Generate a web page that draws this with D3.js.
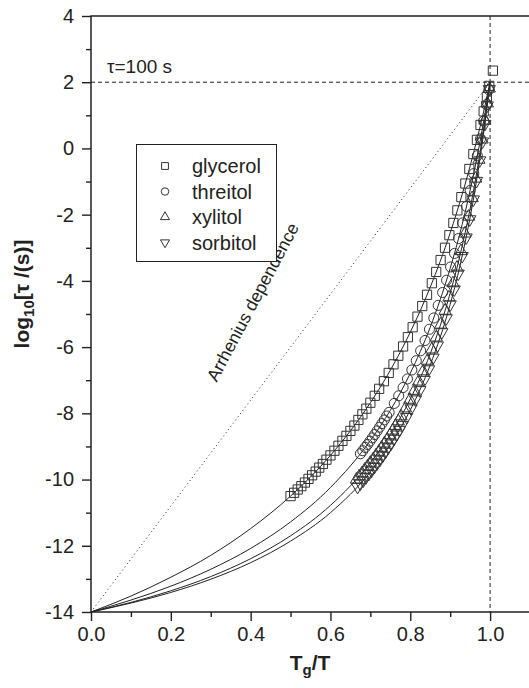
<!DOCTYPE html>
<html>
<head>
<meta charset="utf-8">
<script src="https://cdn.jsdelivr.net/npm/d3@7"></script>
<style>
  html, body { margin: 0; padding: 0; background: #fff; }
  svg { display: block; font-family: "Liberation Sans", Arial, sans-serif; }
</style>
</head>
<body>
<svg class="chart" width="529" height="688"></svg>
<script>
// measured points [Tg/T, log10 tau]
const glycerol = [
  [0.500, -10.50], [0.509, -10.40], [0.518, -10.30], [0.527, -10.20], [0.536, -10.09],
  [0.545, -9.98], [0.554, -9.87], [0.563, -9.76], [0.572, -9.64], [0.581, -9.53],
  [0.590, -9.40], [0.600, -9.27], [0.610, -9.13], [0.620, -8.98], [0.630, -8.83],
  [0.640, -8.68], [0.650, -8.53], [0.660, -8.37], [0.670, -8.20], [0.680, -8.03],
  [0.690, -7.86], [0.700, -7.68], [0.711, -7.47], [0.722, -7.26], [0.734, -7.03],
  [0.746, -6.78], [0.758, -6.52], [0.770, -6.26], [0.782, -5.98], [0.794, -5.70],
  [0.806, -5.40], [0.818, -5.08], [0.830, -4.76], [0.842, -4.42], [0.854, -4.07],
  [0.865, -3.73], [0.876, -3.37], [0.887, -3.00], [0.898, -2.62], [0.908, -2.25],
  [0.918, -1.87], [0.928, -1.47], [0.938, -1.06], [0.948, -0.62], [0.958, -0.17],
  [0.967, 0.26], [0.976, 0.71], [0.984, 1.12], [0.992, 1.55], [0.998, 1.89],
  [1.007, 2.35]
];
const threitol = [
  [0.675, -9.22], [0.681, -9.13], [0.687, -9.03], [0.693, -8.94], [0.699, -8.84],
  [0.705, -8.74], [0.711, -8.64], [0.717, -8.53], [0.723, -8.42], [0.729, -8.31],
  [0.735, -8.20], [0.741, -8.08], [0.747, -7.97], [0.760, -7.70], [0.771, -7.47],
  [0.782, -7.22], [0.793, -6.96], [0.804, -6.69], [0.815, -6.41], [0.826, -6.11],
  [0.837, -5.80], [0.848, -5.46], [0.859, -5.12], [0.870, -4.74], [0.881, -4.35],
  [0.891, -3.98], [0.901, -3.58], [0.911, -3.17], [0.921, -2.72], [0.931, -2.25],
  [0.941, -1.75], [0.950, -1.27], [0.959, -0.76], [0.968, -0.22], [0.976, 0.29],
  [0.984, 0.83], [0.991, 1.32], [0.997, 1.77]
];
const xylitol = [
  [0.665, -10.00], [0.672, -9.90], [0.679, -9.81], [0.686, -9.70], [0.693, -9.60],
  [0.700, -9.49], [0.707, -9.39], [0.714, -9.27], [0.721, -9.16], [0.728, -9.04],
  [0.735, -8.91], [0.742, -8.79], [0.749, -8.66], [0.756, -8.52], [0.763, -8.38],
  [0.770, -8.24], [0.777, -8.09], [0.788, -7.85], [0.799, -7.59], [0.810, -7.32],
  [0.821, -7.04], [0.832, -6.73], [0.843, -6.41], [0.854, -6.07], [0.865, -5.71],
  [0.876, -5.32], [0.887, -4.90], [0.897, -4.50], [0.907, -4.07], [0.917, -3.60],
  [0.927, -3.10], [0.937, -2.57], [0.946, -2.06], [0.955, -1.50], [0.964, -0.91],
  [0.972, -0.34], [0.980, 0.27], [0.987, 0.84], [0.993, 1.36], [0.998, 1.81]
];
const sorbitol = [
  [0.668, -10.22], [0.675, -10.12], [0.682, -10.03], [0.689, -9.93], [0.696, -9.83],
  [0.703, -9.73], [0.710, -9.62], [0.717, -9.51], [0.724, -9.40], [0.731, -9.28],
  [0.738, -9.16], [0.745, -9.03], [0.752, -8.91], [0.759, -8.77], [0.766, -8.64],
  [0.773, -8.50], [0.780, -8.35], [0.791, -8.11], [0.802, -7.85], [0.813, -7.58],
  [0.824, -7.30], [0.835, -6.99], [0.846, -6.67], [0.857, -6.32], [0.868, -5.95],
  [0.879, -5.55], [0.890, -5.13], [0.900, -4.71], [0.910, -4.26], [0.920, -3.78],
  [0.930, -3.25], [0.940, -2.69], [0.949, -2.14], [0.958, -1.54], [0.966, -0.98],
  [0.974, -0.36], [0.981, 0.21], [0.987, 0.74], [0.993, 1.30], [0.998, 1.79]
];

const fitX = [0, 0.1, 0.2, 0.3, 0.4, 0.5, 0.6, 0.7, 0.75, 0.8, 0.85, 0.9, 0.93, 0.96, 0.98, 1.0];
const fitGlycerol = [-14, -13.52, -12.95, -12.29, -11.48, -10.50, -9.27, -7.68, -6.70, -5.55, -4.19, -2.55, -1.39, -0.07, 0.91, 2];
const fitThreitol = [-14, -13.64, -13.22, -12.71, -12.08, -11.28, -10.24, -8.82, -7.91, -6.79, -5.40, -3.62, -2.30, -0.70, 0.55, 2];
const fitXylitol = [-14, -13.71, -13.36, -12.93, -12.39, -11.70, -10.78, -9.49, -8.64, -7.57, -6.20, -4.37, -2.95, -1.18, 0.27, 2];
const fitSorbitol = [-14, -13.73, -13.41, -13.01, -12.51, -11.86, -11.00, -9.77, -8.94, -7.90, -6.54, -4.71, -3.25, -1.41, 0.13, 2];

const arrhenius = [[0, -14], [1, 2]];
const xTicks = [0, 0.2, 0.4, 0.6, 0.8, 1.0];
const xMinor = [0.1, 0.3, 0.5, 0.7, 0.9];
const yTicks = [-14, -12, -10, -8, -6, -4, -2, 0, 2, 4];
const yMinor = [-13, -11, -9, -7, -5, -3, -1, 1, 3];
const legendNames = ["glycerol", "threitol", "xylitol", "sorbitol"];

const svg = d3.select(".chart");
const mLeft = 91, mRight = 530, mTop = 16, mBottom = 612;

const x = d3.scaleLinear().domain([0, 1.1]).range([mLeft, mRight]);
const y = d3.scaleLinear().domain([-14, 4]).range([mBottom, mTop]);

const ink = "#222";

// axes
svg.append("g").attr("transform", `translate(0,${mBottom})`)
  .call(d3.axisBottom(x).tickValues(xTicks).tickSize(9).tickPadding(6).tickFormat(d3.format(".1f")));
svg.append("g").attr("transform", `translate(0,${mBottom})`)
  .call(d3.axisBottom(x).tickValues(xMinor).tickSize(5).tickFormat(""));
const yAxis = svg.append("g").attr("transform", `translate(${mLeft},0)`)
  .call(d3.axisLeft(y).tickValues(yTicks).tickSize(9).tickPadding(8).tickFormat(d3.format("d")));
svg.append("g").attr("transform", `translate(${mLeft},0)`)
  .call(d3.axisLeft(y).tickValues(yMinor).tickSize(5).tickFormat(""));

svg.selectAll(".domain").remove();
svg.selectAll(".tick line").attr("stroke", ink).attr("stroke-width", 1.4);
svg.selectAll(".tick text")
  .attr("fill", ink)
  .style("font-size", "20px")
  .style("font-family", "'Liberation Sans', Arial, sans-serif");
yAxis.selectAll(".tick text").text(d => d < 0 ? "-" + Math.abs(d) : d);

// frame
svg.append("path")
  .attr("d", `M${mLeft},${mTop}H${mRight}V${mBottom}H${mLeft}Z`)
  .attr("fill", "none").attr("stroke", ink).attr("stroke-width", 1.5);

// reference lines
svg.append("line")
  .attr("x1", mLeft).attr("x2", mRight).attr("y1", y(2)).attr("y2", y(2))
  .attr("stroke", ink).attr("stroke-width", 1).attr("stroke-dasharray", "4,3");
svg.append("line")
  .attr("x1", x(1)).attr("x2", x(1)).attr("y1", mTop).attr("y2", mBottom)
  .attr("stroke", ink).attr("stroke-width", 1).attr("stroke-dasharray", "4,3");
svg.append("path")
  .datum(arrhenius)
  .attr("d", d3.line().x(d => x(d[0])).y(d => y(d[1])))
  .attr("fill", "none").attr("stroke", ink).attr("stroke-width", 1).attr("stroke-dasharray", "1,3");

svg.append("text")
  .attr("x", 107).attr("y", 73)
  .style("font-size", "19px").attr("fill", ink)
  .text("τ=100 s");

svg.append("text")
  .attr("transform", "translate(258,305) rotate(-62)")
  .attr("text-anchor", "middle")
  .style("font-size", "17.5px").attr("fill", ink)
  .text("Arrhenius dependence");

// fit curves
const fitLine = d3.line().curve(d3.curveMonotoneX);
[fitGlycerol, fitThreitol, fitXylitol, fitSorbitol].forEach(fy => {
  svg.append("path")
    .attr("d", fitLine(fitX.map((fx, i) => [x(fx), y(fy[i])])))
    .attr("fill", "none").attr("stroke", ink).attr("stroke-width", 1);
});

// markers
const shapes = [
  { data: glycerol, sym: d3.symbolSquare, size: 85, rot: 0 },
  { data: threitol, sym: d3.symbolCircle, size: 80, rot: 0 },
  { data: xylitol, sym: d3.symbolTriangle, size: 65, rot: 0 },
  { data: sorbitol, sym: d3.symbolTriangle, size: 65, rot: 180 }
];
shapes.forEach(s => {
  svg.append("g").selectAll("path")
    .data(s.data)
    .enter()
    .append("path")
    .attr("d", d3.symbol().type(s.sym).size(s.size))
    .attr("transform", d => `translate(${x(d[0])},${y(d[1])}) rotate(${s.rot})`)
    .attr("fill", "none").attr("stroke", "#333").attr("stroke-width", 1);
});

// legend
const legend = svg.append("g");
legend.append("rect")
  .attr("x", 136.5).attr("y", 144.5).attr("width", 140).attr("height", 117)
  .attr("fill", "#fff").attr("stroke", ink).attr("stroke-width", 1);
legendNames.forEach((name, i) => {
  const ly = 166 + i * 25.5;
  legend.append("path")
    .attr("d", d3.symbol().type(shapes[i].sym).size(shapes[i].size * 0.55))
    .attr("transform", `translate(165,${ly}) rotate(${shapes[i].rot})`)
    .attr("fill", "none").attr("stroke", "#333").attr("stroke-width", 1);
  legend.append("text")
    .attr("x", 192).attr("y", ly + 7)
    .style("font-size", "20px").attr("fill", ink)
    .text(name);
});

// axis titles
const xt = svg.append("text")
  .attr("x", 310).attr("y", 670)
  .attr("text-anchor", "middle")
  .style("font-size", "21px").style("font-weight", "bold").attr("fill", ink);
xt.append("tspan").text("T");
xt.append("tspan").attr("dy", 5).style("font-size", "15px").text("g");
xt.append("tspan").attr("dy", -5).text("/T");

const yt = svg.append("text")
  .attr("transform", "translate(29,294) rotate(-90)")
  .attr("text-anchor", "middle")
  .style("font-size", "21px").style("font-weight", "bold").attr("fill", ink);
yt.append("tspan").text("log");
yt.append("tspan").attr("dy", 5).style("font-size", "15px").text("10");
yt.append("tspan").attr("dy", -5).text("[τ /(s)]");
</script>
</body>
</html>
